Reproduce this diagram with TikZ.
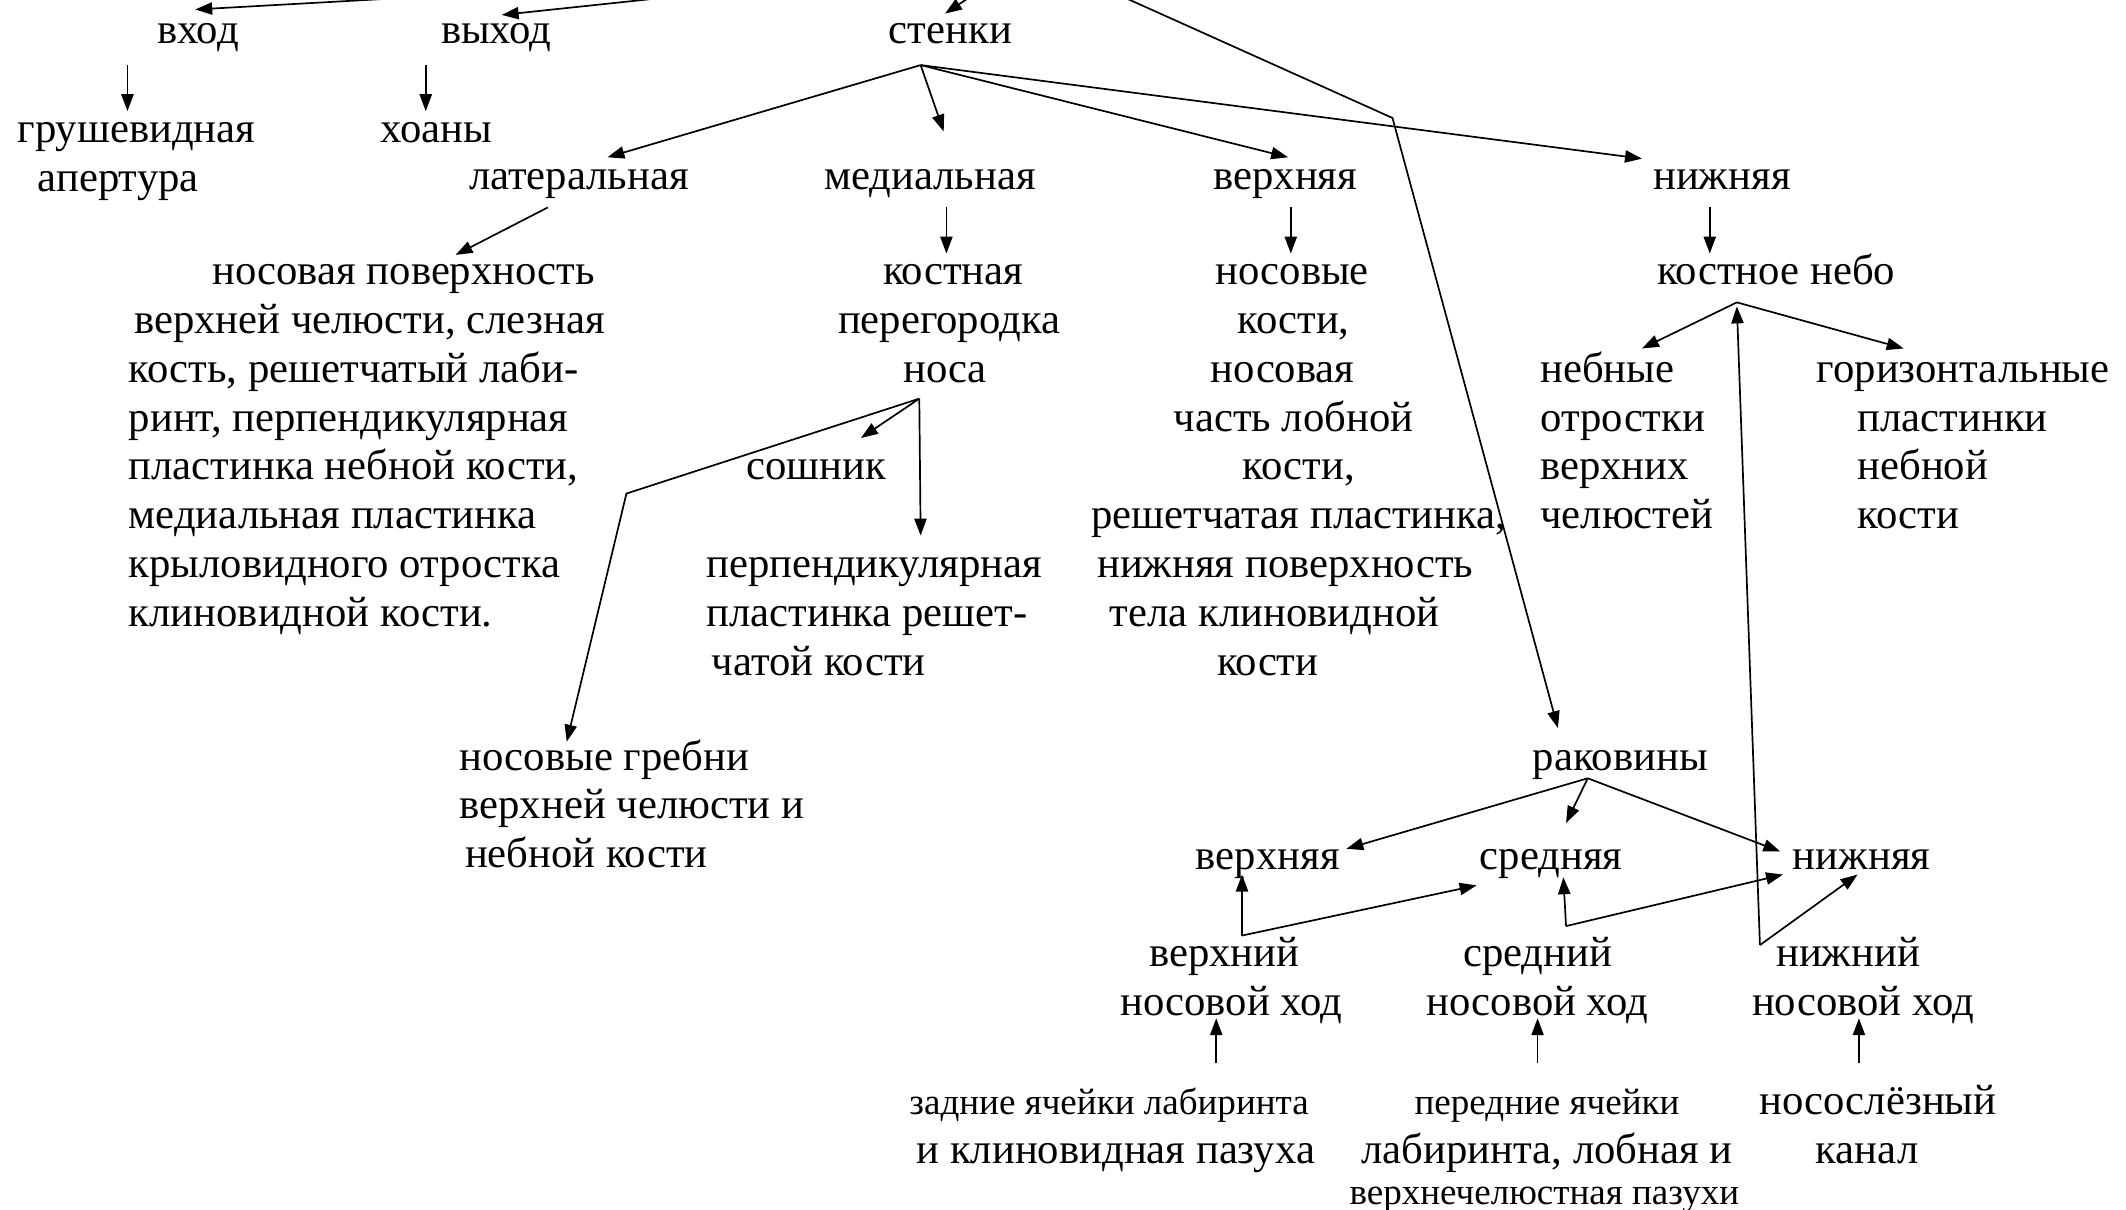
\documentclass[tikz,border=0pt]{standalone}
\usepackage{fontspec}
\setmainfont{Liberation Serif}
\usetikzlibrary{arrows.meta}

% a block of lines whose baseline is that of its first line
\newcommand\txtblock[2]{\begin{tabular}[t]{@{}#1@{}}#2\end{tabular}}
\newcommand\smalltxt{\fontsize{16.4pt}{21.6pt}\selectfont}
% move one line of a centred block sideways without changing its width
\newcommand\nudge[2]{\hspace*{#1}#2\hspace*{-#1}}

\tikzset{
  lbl/.style={inner sep=0pt, outer sep=0pt, anchor=base, yshift=-1.2pt,
    font=\fontsize{18.9pt}{21.6pt}\selectfont},
  lblw/.style={lbl, anchor=base west},
  arr/.style={-{Triangle[length=7.5pt,width=5.4pt]}, line width=0.75pt},
}

\begin{document}
\begin{tikzpicture}[x=0.6pt, y=-0.6pt]
\useasboundingbox (0,0) rectangle (1568,892);
\fill[white] (0,0) rectangle (1568,892);
\clip (0,0) rectangle (1568,892);

% ---------- labels ----------
\node[lbl] (vhod)  at (146,30) {вход};
\node[lbl] (vyhod) at (366,30) {выход};
\node[lbl] (stenki) at (701,30) {стенки};

\node[lblw] (grush) at (13,103) {\txtblock{l}{грушевидная\\\hspace*{9pt}апертура}};
\node[lbl] (hoany) at (322,103) {хоаны};

\node[lbl] (lat)  at (427,138) {латеральная};
\node[lbl] (med)  at (686,138) {медиальная};
\node[lbl] (verh) at (948,138) {верхняя};
\node[lbl] (nizh) at (1270,138) {нижняя};

\node[lblw] (latbones) at (95,208) {\txtblock{l}{\hspace*{37pt}носовая поверхность\\
  \hspace*{2.4pt}верхней челюсти, слезная\\кость, решетчатый лаби-\\ринт, перпендикулярная\\
  пластинка небной кости,\\медиальная пластинка\\крыловидного отростка\\клиновидной кости.}};
\node[lbl] (septum) at (700,208) {\txtblock{c}{\nudge{1.8pt}{костная}\\перегородка\\\nudge{-1.8pt}{носа}}};
\node[lbl] (roof) at (950,208) {\txtblock{c}{\nudge{1.8pt}{носовые}\\\nudge{2.4pt}{кости,}\\
  \nudge{-2.4pt}{носовая}\\\nudge{2.4pt}{часть лобной}\\\nudge{4.8pt}{кости,}\\
  \nudge{4.8pt}{решетчатая пластинка,}\\\nudge{-1.2pt}{нижняя поверхность}\\
  \nudge{-6pt}{тела клиновидной}\\\nudge{-9pt}{кости}}};
\node[lbl] (palate) at (1310,208) {костное небо};

\node[lblw] (palproc) at (1136,280) {\txtblock{l}{небные\\отростки\\верхних\\челюстей}};
\node[lblw] (horplates) at (1340,280) {\txtblock{l}{горизонтальные\\\hspace*{18pt}пластинки\\
  \hspace*{18pt}небной\\\hspace*{18pt}кости}};

\node[lbl] (vomer) at (602,352) {сошник};
\node[lblw] (perpplate) at (521,424) {\txtblock{l}{перпендикулярная\\пластинка решет-\\\hspace*{2.4pt}чатой кости}};
\node[lblw] (crests) at (339,566) {\txtblock{l}{носовые гребни\\верхней челюсти и\\\hspace*{2.4pt}небной кости}};

\node[lbl] (conchae) at (1195,566) {раковины};
\node[lbl] (csup) at (935,639) {верхняя};
\node[lbl] (cmid) at (1144,639) {средняя};
\node[lbl] (cinf) at (1373,639) {нижняя};

\node[lbl] (msup) at (905,711) {\txtblock{c}{\nudge{-1.2pt}{верхний}\\\nudge{1.8pt}{носовой ход}}};
\node[lbl] (mmid) at (1134,711) {\txtblock{c}{средний\\носовой ход}};
\node[lbl] (minf) at (1368,711) {\txtblock{c}{\nudge{-3pt}{нижний}\\\nudge{3.6pt}{носовой ход}}};

\node[lbl] (postcells) at (820,820) {\txtblock{c}{\nudge{-1.2pt}{\smalltxt задние ячейки лабиринта}\\
  \nudge{1.8pt}{и клиновидная пазуха}}};
\node[lbl] (antcells) at (1141,820) {\txtblock{c}{{\smalltxt передние ячейки}\\лабиринта, лобная и\\[-3.6pt]
  \nudge{-1.2pt}{\smalltxt верхнечелюстная пазухи}}};
\node[lbl] (nlcanal) at (1381,820) {\txtblock{c}{\nudge{2.4pt}{носослёзный}\\\nudge{-2.4pt}{канал}}};

% ---------- connector ends ----------
\coordinate (src-a) at (700,-24);
\coordinate (src-b) at (748,-24);
\coordinate (src-c) at (780,-24);
\coordinate (bend-c) at (1027,87);
\coordinate (vhod-t) at (144,7);
\coordinate (vyhod-t) at (370,11);
\coordinate (stenki-t) at (697,10);
\coordinate (conchae-t) at (1149,537);

\coordinate (vhod-b) at (94,48);   \coordinate (grush-t) at (94,82);
\coordinate (vyhod-b) at (314,48); \coordinate (hoany-t) at (314,82);

\coordinate (stenki-b) at (679,48);
\coordinate (lat-t) at (448,116);
\coordinate (med-t) at (696,97);
\coordinate (verh-t) at (950,116);
\coordinate (nizh-t) at (1211,117);

\coordinate (lat-b) at (404,153);   \coordinate (latbones-t) at (336,188);
\coordinate (med-b) at (698,153);   \coordinate (septum-t) at (698,187);
\coordinate (verh-b) at (952,153);  \coordinate (roof-t) at (952,187);
\coordinate (nizh-b) at (1261,153); \coordinate (palate-t) at (1261,187);

\coordinate (septum-b) at (678,294);
\coordinate (vomer-t) at (635,323);
\coordinate (perpplate-t) at (679,395);
\coordinate (bend-s) at (462,364);
\coordinate (crests-t) at (418,547);

\coordinate (palate-b) at (1281,223);
\coordinate (palate-in) at (1281,226);
\coordinate (palproc-t) at (1211,257);
\coordinate (horplates-t) at (1404,257);

\coordinate (conchae-b) at (1171,574);
\coordinate (csup-t) at (993,626);
\coordinate (cmid-t) at (1155,607);
\coordinate (cinf-t) at (1313,628);

\coordinate (msup-t) at (916,690);  \coordinate (csup-b) at (916,645);  \coordinate (cmid-l) at (1089,653);
\coordinate (mmid-t) at (1155,683); \coordinate (cmid-b) at (1153,647); \coordinate (cinf-l) at (1315,645);
\coordinate (minf-t) at (1298,697); \coordinate (cinf-b) at (1370,645);

\coordinate (postcells-t) at (897,784); \coordinate (msup-b) at (897,751);
\coordinate (antcells-t) at (1134,784); \coordinate (mmid-b) at (1134,751);
\coordinate (nlcanal-t) at (1371,784);  \coordinate (minf-b) at (1371,751);

% ---------- connectors ----------
\draw[arr] (src-a) -- (vhod-t);
\draw[arr] (src-a) -- (vyhod-t);
\draw[arr] (src-b) -- (stenki-t);
\draw[arr] (src-c) -- (bend-c) -- (conchae-t);

\draw[arr] (vhod-b) -- (grush-t);
\draw[arr] (vyhod-b) -- (hoany-t);

\draw[arr] (stenki-b) -- (lat-t);
\draw[arr] (stenki-b) -- (med-t);
\draw[arr] (stenki-b) -- (verh-t);
\draw[arr] (stenki-b) -- (nizh-t);

\draw[arr] (lat-b) -- (latbones-t);
\draw[arr] (med-b) -- (septum-t);
\draw[arr] (verh-b) -- (roof-t);
\draw[arr] (nizh-b) -- (palate-t);

\draw[arr] (septum-b) -- (vomer-t);
\draw[arr] (septum-b) -- (perpplate-t);
\draw[arr] (septum-b) -- (bend-s) -- (crests-t);

\draw[arr] (palate-b) -- (palproc-t);
\draw[arr] (palate-b) -- (horplates-t);

\draw[arr] (conchae-b) -- (csup-t);
\draw[arr] (conchae-b) -- (cmid-t);
\draw[arr] (conchae-b) -- (cinf-t);

\draw[arr] (msup-t) -- (csup-b);
\draw[arr] (msup-t) -- (cmid-l);
\draw[arr] (mmid-t) -- (cmid-b);
\draw[arr] (mmid-t) -- (cinf-l);
\draw[arr] (minf-t) -- (cinf-b);
\draw[arr] (minf-t) -- (palate-in);

\draw[arr] (postcells-t) -- (msup-b);
\draw[arr] (antcells-t) -- (mmid-b);
\draw[arr] (nlcanal-t) -- (minf-b);
\end{tikzpicture}
\end{document}
